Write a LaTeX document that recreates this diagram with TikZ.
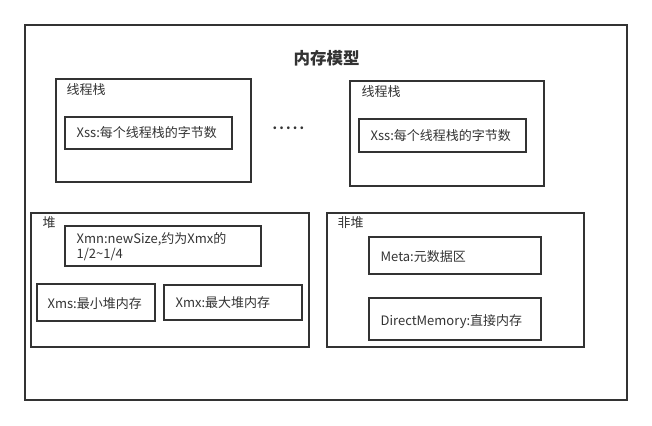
\documentclass[tikz,border=0pt]{standalone}
\usepackage{fontspec}
\newfontfamily\cjk{Noto Sans CJK SC}
\definecolor{ink}{HTML}{333333}
\begin{document}
\begin{tikzpicture}[x=1pt, y=-1pt, line width=1.3pt,
    box/.style={draw=ink},
    lbl/.style={anchor=west, inner sep=0pt, text=ink, font=\cjk\fontsize{13}{15}\selectfont}]
  \useasboundingbox (0,0) rectangle (652,425);
  % outer frame and title
  \draw[box] (25,25) rectangle (627,400);
  \node[lbl, anchor=center, font=\cjk\bfseries\fontsize{16.5}{18}\selectfont] (title) at (326.5,58) {内存模型};
  % thread stacks
  \draw[box] (56,79) rectangle (251,182);
  \node[lbl] (stackA) at (66,90) {线程栈};
  \draw[box] (65,117) rectangle (232,149);
  \node[lbl] (xssA) at (76,133) {Xss:每个线程栈的字节数};
  \node[lbl, font=\cjk\bfseries\fontsize{13}{15}\selectfont] (dots) at (272,128) {.\,.\,.\,.\,.};
  \draw[box] (350,81) rectangle (544,186);
  \node[lbl] (stackB) at (361,92) {线程栈};
  \draw[box] (359,119) rectangle (526,152);
  \node[lbl] (xssB) at (370,136) {Xss:每个线程栈的字节数};
  % heap
  \draw[box] (31,213) rectangle (309,347);
  \node[lbl] (heap) at (42,223) {堆};
  \draw[box] (65,226) rectangle (261,266);
  \node[lbl, align=left] (xmn) at (76,247) {Xmn:newSize,约为Xmx的\\1/2\textasciitilde1/4};
  \draw[box] (37,284) rectangle (155,321);
  \node[lbl] (xms) at (47,304) {Xms:最小堆内存};
  \draw[box] (164,285) rectangle (302,320);
  \node[lbl] (xmx) at (175,303) {Xmx:最大堆内存};
  % non-heap
  \draw[box] (327,213) rectangle (584,347);
  \node[lbl] (nonheap) at (337,223) {非堆};
  \draw[box] (369,237) rectangle (541,274);
  \node[lbl] (meta) at (380,257) {Meta:元数据区};
  \draw[box] (369,298) rectangle (541,340);
  \node[lbl] (direct) at (380,322) {DirectMemory:直接内存};
\end{tikzpicture}
\end{document}
